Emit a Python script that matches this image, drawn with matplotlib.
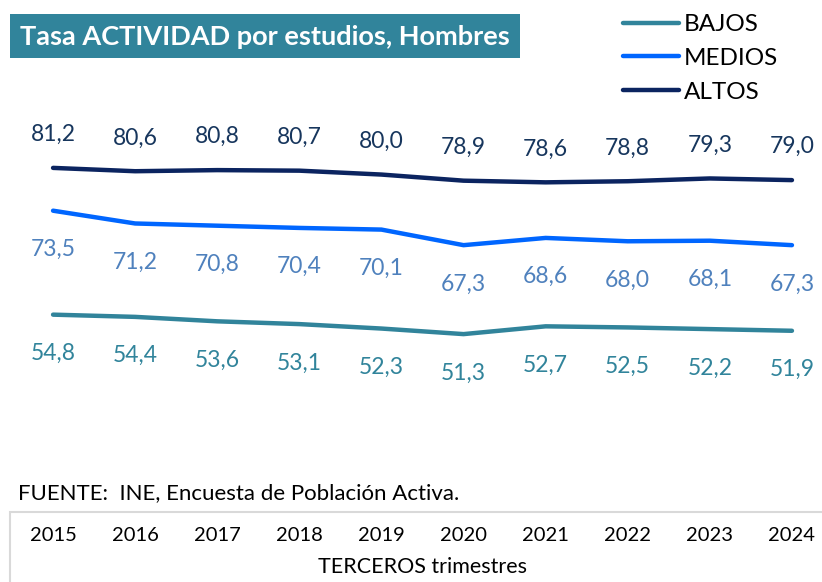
import matplotlib
matplotlib.use("Agg")
import matplotlib.pyplot as plt
from matplotlib.patches import Rectangle

plt.rcParams['font.family'] = ['Lato', 'DejaVu Sans']

years = ['2015', '2016', '2017', '2018', '2019', '2020', '2021', '2022', '2023', '2024']
bajos = [54.8, 54.4, 53.6, 53.1, 52.3, 51.3, 52.7, 52.5, 52.2, 51.9]
medios = [73.5, 71.2, 70.8, 70.4, 70.1, 67.3, 68.6, 68.0, 68.1, 67.3]
altos = [81.2, 80.6, 80.8, 80.7, 80.0, 78.9, 78.6, 78.8, 79.3, 79.0]

teal = '#31849B'
blue = '#0066FF'
navy = '#0B2460'

W, H = 822, 582
fig = plt.figure(figsize=(W / 100, H / 100), dpi=100)

# axes placed in pixel terms so that the bottom edge sits on the year box
ax = fig.add_axes([12 / W, (H - 512) / H, 821 / W, 512 / H])
xs = list(range(len(years)))

ax.plot(xs, bajos, color=teal, lw=3.2, label='BAJOS', solid_capstyle='round')
ax.plot(xs, medios, color=blue, lw=3.2, label='MEDIOS', solid_capstyle='round')
ax.plot(xs, altos, color=navy, lw=3.2, label='ALTOS', solid_capstyle='round')

def fmt(v):
    return f'{v:.1f}'.replace('.', ',')

for x, v in zip(xs, altos):
    ax.annotate(fmt(v), (x, v), xytext=(0, 24), textcoords='offset points',
                ha='center', va='center', fontsize=16.5, color='#17365D')
for x, v in zip(xs, medios):
    ax.annotate(fmt(v), (x, v), xytext=(0, -28), textcoords='offset points',
                ha='center', va='center', fontsize=16.5, color='#4F81BD')
for x, v in zip(xs, bajos):
    ax.annotate(fmt(v), (x, v), xytext=(0, -28), textcoords='offset points',
                ha='center', va='center', fontsize=16.5, color=teal)

ax.set_xlim(-0.5, 9.5)
ax.set_ylim(19.3, 111.4)
ax.set_xticks(xs)
ax.set_xticklabels(years, fontsize=14.5)
ax.tick_params(axis='x', length=0, pad=11)
ax.set_yticks([])
ax.set_xlabel('TERCEROS trimestres', fontsize=15.5, labelpad=9)
for s in ax.spines.values():
    s.set_visible(False)
ax.patch.set_alpha(0)

# box around the category axis
fig.patches.append(Rectangle((10 / W, -0.1), 1.0, (H - 512) / H + 0.1, transform=fig.transFigure,
                             fill=False, edgecolor='#D9D9D9', lw=1.5))

leg = ax.legend(loc='upper left', bbox_to_anchor=(623 / W, 1 - 14 / H), bbox_transform=fig.transFigure,
                frameon=False, fontsize=17.5, handlelength=2.3, handletextpad=0.2, labelspacing=0.53,
                borderaxespad=0, borderpad=0)

# title box
fig.patches.append(Rectangle((10 / W, 1 - 58 / H), 510 / W, 44 / H, transform=fig.transFigure,
                             facecolor=teal, edgecolor='none'))
fig.text(20 / W, 1 - 37 / H, 'Tasa ACTIVIDAD por estudios, Hombres', fontsize=19.5, fontweight='bold',
         color='white', va='center', ha='left')

fig.text(18 / W, 1 - 493 / H, 'FUENTE:  INE, Encuesta de Población Activa.', fontsize=16,
         va='center', ha='left', color='black')

fig.savefig('out.png', dpi=100)
